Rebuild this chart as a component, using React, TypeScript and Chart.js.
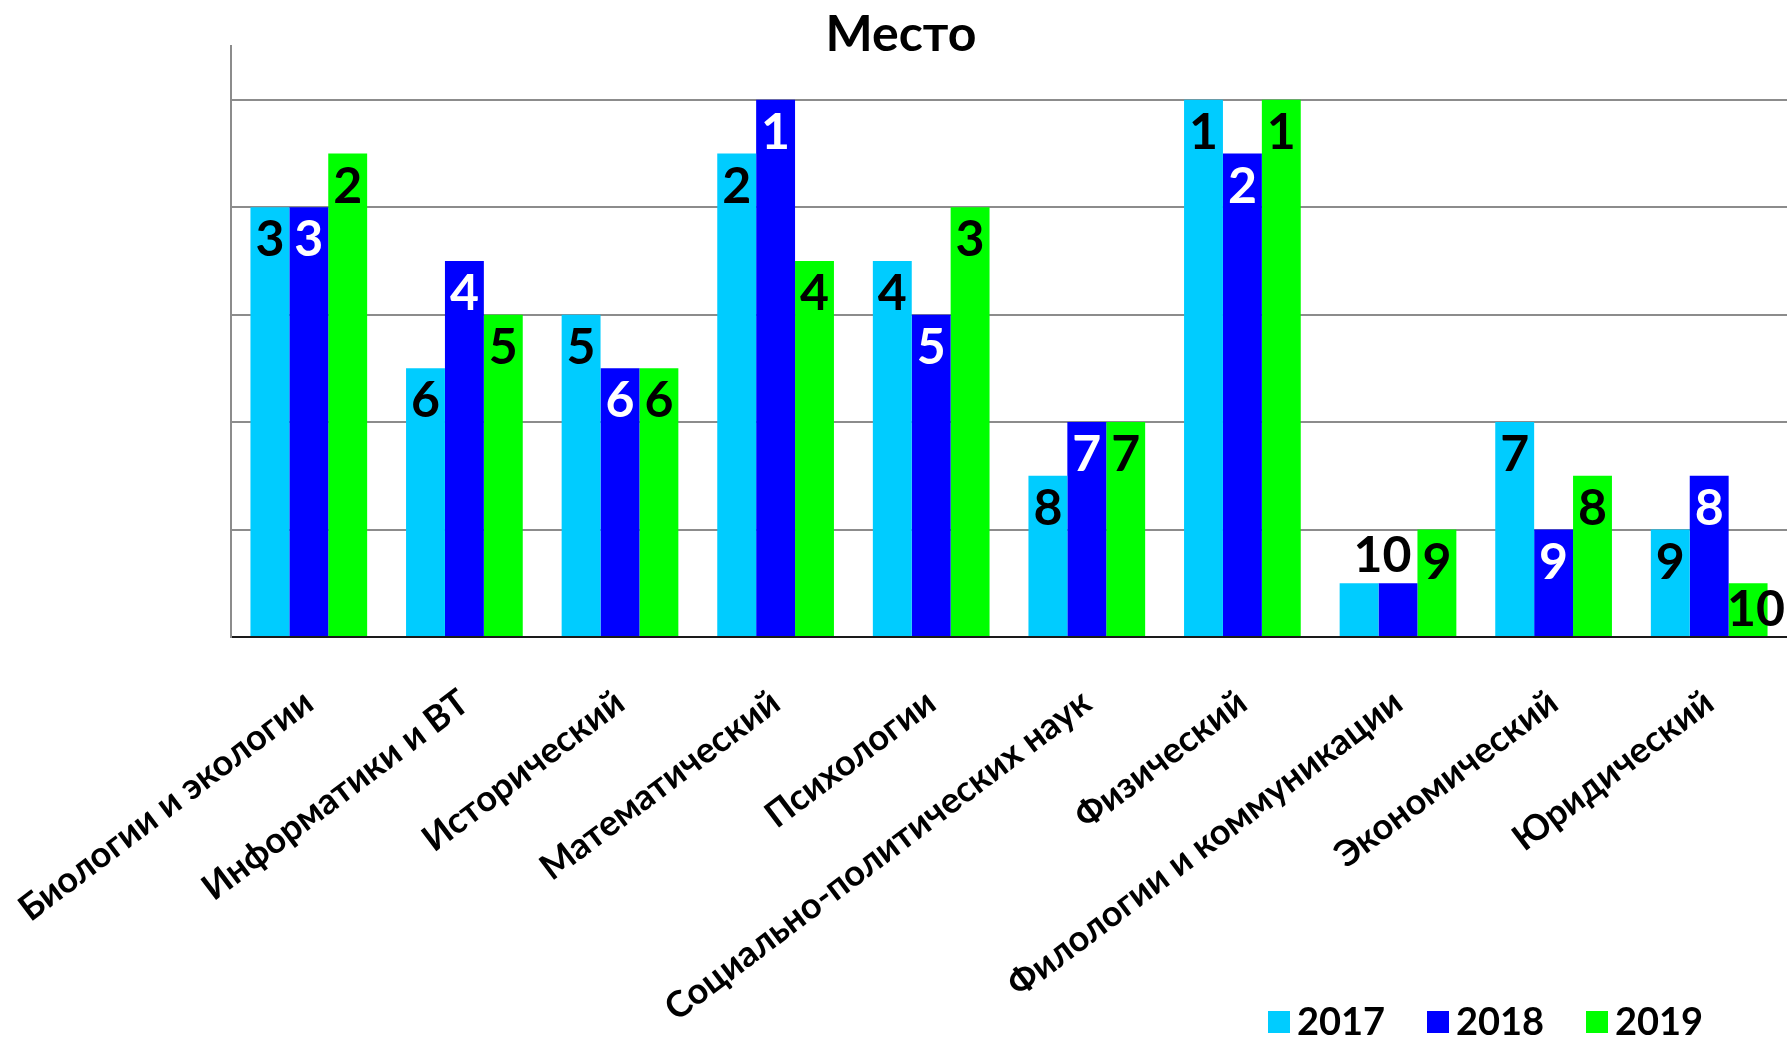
import React, { useEffect, useRef } from 'react';
import { Chart, registerables } from 'chart.js';

Chart.register(...registerables);

const categories = [
  'Биологии и экологии',
  'Информатики и ВТ',
  'Исторический',
  'Математический',
  'Психологии',
  'Социально-политических наук',
  'Физический',
  'Филологии и коммуникации',
  'Экономический',
  'Юридический',
];
const years = ['2017', '2018', '2019'];
const place2017 = [3, 6, 5, 2, 4, 8, 1, 10, 7, 9];
const place2018 = [3, 4, 6, 1, 5, 7, 2, 10, 9, 8];
const place2019 = [2, 5, 6, 4, 3, 7, 1, 9, 8, 10];
const barColors = ['#00CCFF', '#0000FF', '#00FF00'];
const labelColors = ['#000000', '#FFFFFF', '#000000'];
const MAX_PLACE = 11; // bar height = MAX_PLACE - place

const FONT = 'Lato, "Open Sans", "DejaVu Sans", sans-serif';

const placeLabelPlugin = {
  id: 'placeLabels',
  afterDatasetsDraw(chart: any) {
    const ctx = chart.ctx;
    const dsets = chart.data.datasets;
    ctx.save();
    ctx.font = `bold 50px ${FONT}`;
    ctx.textAlign = 'center';
    ctx.textBaseline = 'middle';
    for (let di = dsets.length - 1; di >= 0; di--) {
      const meta = chart.getDatasetMeta(di);
      const ds = dsets[di];
      meta.data.forEach((bar: any, i: number) => {
        const v = ds.data[i];
        const p = bar.getProps(['x', 'y', 'base', 'width'], true);
        const next = dsets[di + 1] ? dsets[di + 1].data[i] : null;
        const prev = dsets[di - 1] ? dsets[di - 1].data[i] : null;
        let x = p.x;
        let y = p.y + Math.min(33, (p.base - p.y) / 2);
        if (v <= 1 && next === v) {
          x = p.x + p.width / 2 + 4;
          y = p.y - 27;
        } else if (v <= 1 && prev === v) {
          x = p.x - p.width / 2 + 4;
          y = p.y - 27;
        } else if (v <= 1) {
          x = p.x + 8;
        }
        ctx.fillStyle = ds.labelColor;
        ctx.fillText(String(ds.places[i]), x, y);
      });
    }
    ctx.restore();
  },
};

const titlePlugin = {
  id: 'customTitle',
  afterDraw(chart: any) {
    const ctx = chart.ctx;
    ctx.save();
    ctx.font = `bold 50px ${FONT}`;
    ctx.fillStyle = '#000';
    ctx.textAlign = 'center';
    ctx.textBaseline = 'middle';
    ctx.fillText('Место', 901, 35);
    ctx.restore();
  },
};

const legendPlugin = {
  id: 'customLegend',
  afterDraw(chart: any) {
    const ctx = chart.ctx;
    ctx.save();
    ctx.font = `bold 38px ${FONT}`;
    ctx.textAlign = 'left';
    ctx.textBaseline = 'middle';
    chart.data.datasets.forEach((ds: any, i: number) => {
      const bx = 1268 + i * 159;
      const cy = 1022;
      ctx.fillStyle = ds.backgroundColor;
      ctx.fillRect(bx, cy - 11, 22, 22);
      ctx.fillStyle = '#000';
      ctx.fillText(ds.label, bx + 29, cy + 1);
    });
    ctx.restore();
  },
};

export default function App() {
  const ref = useRef<HTMLCanvasElement>(null);
  useEffect(() => {
    document.body.style.margin = '0';
    const places = [place2017, place2018, place2019];
    const chart = new Chart(ref.current as HTMLCanvasElement, {
      type: 'bar',
      data: {
        labels: categories,
        datasets: years.map((yr, i) => ({
          label: yr,
          data: places[i].map((p) => MAX_PLACE - p),
          places: places[i],
          labelColor: labelColors[i],
          backgroundColor: barColors[i],
          borderWidth: 0,
          categoryPercentage: 0.75,
          barPercentage: 1,
        })) as any,
      },
      options: {
        responsive: false,
        animation: false,
        layout: { padding: { top: 46, left: 0, right: 0, bottom: 0 } },
        plugins: {
          legend: { display: false },
          title: { display: false },
          tooltip: { enabled: false },
        },
        scales: {
          x: {
            grid: { display: false },
            border: { display: true, color: '#1a1a1a', width: 2 },
            ticks: {
              autoSkip: false,
              minRotation: 37,
              maxRotation: 37,
              color: '#000',
              font: { family: FONT, weight: 'bold', size: 36 },
              padding: 36,
            },
            afterFit: (s: any) => {
              s.height = 401;
              s.paddingLeft = 0;
              s.paddingRight = 0;
            },
          },
          y: {
            min: 0,
            max: 11,
            ticks: { display: false, stepSize: 2 },
            afterBuildTicks: (s: any) => {
              s.ticks = s.ticks.filter((t: any) => t.value % 2 === 0);
            },
            grid: {
              color: (c: any) => (c.tick && c.tick.value === 0 ? '#1a1a1a' : '#8c8c8c'),
              lineWidth: 2,
              drawTicks: false,
            },
            border: { color: '#8c8c8c', width: 2 },
            afterFit: (s: any) => {
              s.width = 231;
            },
          },
        },
      } as any,
      plugins: [placeLabelPlugin, titlePlugin, legendPlugin],
    });
    return () => chart.destroy();
  }, []);
  return (
    <div style={{ width: 1787, height: 1038, overflow: 'hidden' }}>
      <canvas ref={ref} width={1787} height={1038} style={{ display: 'block' }} />
    </div>
  );
}
